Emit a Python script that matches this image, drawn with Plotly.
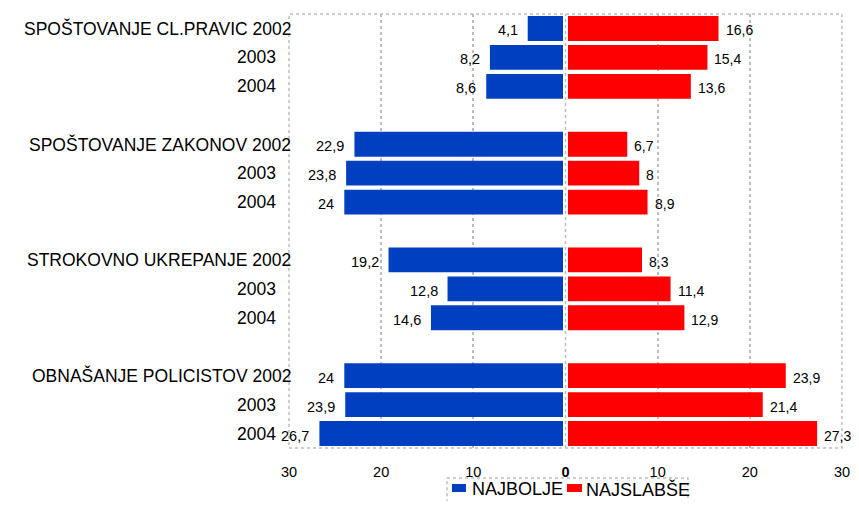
import plotly.graph_objs as go

# rows from top to bottom, a gap slot after every group of three years
groups = ['SPOŠTOVANJE CL.PRAVIC', 'SPOŠTOVANJE ZAKONOV', 'STROKOVNO UKREPANJE', 'OBNAŠANJE POLICISTOV']
years = ['2002', '2003', '2004']
najbolje = [4.1, 8.2, 8.6, 22.9, 23.8, 24, 19.2, 12.8, 14.6, 24, 23.9, 26.7]
najslabse = [16.6, 15.4, 13.6, 6.7, 8, 8.9, 8.3, 11.4, 12.9, 23.9, 21.4, 27.3]
series = ['NAJBOLJE', 'NAJSLABŠE']
tick_vals = [-30, -20, -10, 0, 10, 20, 30]
tick_text = ['30', '20', '10', '<b>0</b>', '10', '20', '30']

BLUE = '#0040C0'
RED = '#FF0000'
GRID = '#BDBDBD'
FONT = 'Liberation Sans, Arial, sans-serif'


def fmt(v):
    return str(v).replace('.', ',')


ypos = []
labels = []
for g, name in enumerate(groups):
    for k, yr in enumerate(years):
        ypos.append(g * 4 + k)
        labels.append(name + ' ' + yr if k == 0 else yr)

fig = go.Figure()
fig.add_trace(go.Bar(y=ypos, x=[-v for v in najbolje], orientation='h', name=series[0],
                     marker=dict(color=BLUE, line=dict(width=0)), width=0.86))
fig.add_trace(go.Bar(y=ypos, x=najslabse, orientation='h', name=series[1],
                     marker=dict(color=RED, line=dict(width=0)), width=0.86))

ann = []
for y, v in zip(ypos, najbolje):
    ann.append(dict(x=-v, y=y, text=fmt(v), xanchor='right', xshift=-8, yshift=-2, showarrow=False,
                    font=dict(size=14.5, color='black', family=FONT)))
for y, v in zip(ypos, najslabse):
    ann.append(dict(x=v, y=y, text=fmt(v), xanchor='left', xshift=5, yshift=-2, showarrow=False,
                    font=dict(size=14, color='black', family=FONT)))
for y, lab in zip(ypos, labels):
    ann.append(dict(x=0.0072 if ' ' in lab else -0.0199, xref='paper', y=y, text=lab, xanchor='right',
                    showarrow=False, font=dict(size=17.5, color='black', family=FONT)))

shapes = [
    dict(type='line', xref='x', yref='paper', x0=0, x1=0, y0=0, y1=1, line=dict(color='white', width=5)),
    dict(type='line', xref='x', yref='paper', x0=0, x1=0, y0=0, y1=1, line=dict(color=GRID, width=1.5, dash='dot')),
    dict(type='rect', xref='paper', yref='paper', x0=0, x1=1, y0=0, y1=1, line=dict(color=GRID, width=1.5, dash='dot')),
]

# hand-made legend below the plot, in a dotted box
shapes.append(dict(type='rect', xref='paper', yref='paper', x0=0.2857, x1=0.7215, y0=-0.0691, y1=-0.15,
                   line=dict(color=GRID, width=1.5, dash='dot')))
for x0, x1, col in [(0.2948, 0.3200, BLUE), (0.5027, 0.5298, RED)]:
    shapes.append(dict(type='rect', xref='paper', yref='paper', x0=x0, x1=x1, y0=-0.0829, y1=-0.1014,
                       fillcolor=col, line=dict(width=0)))
for x, name in zip([0.3273, 0.5335], series):
    ann.append(dict(x=x, xref='paper', y=-0.0945, yref='paper', text=name, xanchor='left', yanchor='middle',
                    showarrow=False, font=dict(size=18, color='black', family=FONT)))

# the page body has an 8px margin, so the figure is a little smaller than the window
fig.update_layout(
    width=843, height=493,
    margin=dict(l=281, r=9, t=6, b=53, autoexpand=False),
    barmode='overlay',
    paper_bgcolor='white', plot_bgcolor='white',
    font=dict(family=FONT, size=14, color='black'),
    showlegend=False,
    annotations=ann,
    shapes=shapes,
)
fig.update_xaxes(range=[-30, 30], tickvals=tick_vals, ticktext=tick_text, showgrid=True,
                 gridcolor=GRID, griddash='dot', gridwidth=1.5, zeroline=False, ticks='',
                 tickfont=dict(size=14.5), ticklabelstandoff=13, ticklabeloverflow='allow',
                 automargin=False)
fig.update_yaxes(range=[14.5, -0.5], showticklabels=False, showgrid=False, zeroline=False, ticks='',
                 automargin=False)

fig.write_html("out.html")
